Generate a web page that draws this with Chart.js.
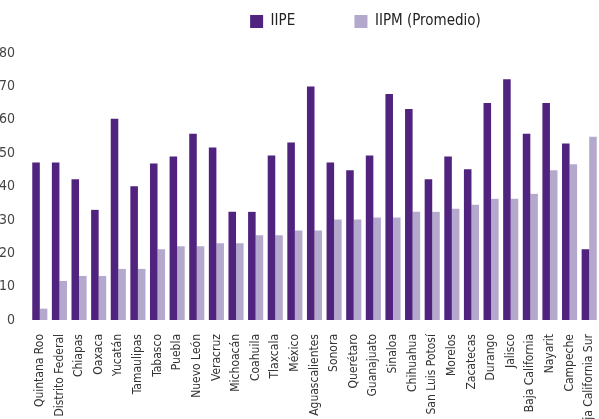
<!DOCTYPE html>
<html>
<head>
<meta charset="utf-8">
<script src="https://cdn.jsdelivr.net/npm/chart.js@4/dist/chart.umd.min.js"></script>
<style>
  html, body { margin: 0; padding: 0; background: #fff; }
  #wrap { width: 599px; height: 419px; }
</style>
</head>
<body>
<div id="wrap"><canvas id="iipeChart"></canvas></div>
<script>
const estados = [
    "Quintana Roo", "Distrito Federal", "Chiapas", "Oaxaca", "Yucatán",
    "Tamaulipas", "Tabasco", "Puebla", "Nuevo León", "Veracruz",
    "Michoacán", "Coahuila", "Tlaxcala", "México", "Aguascalientes",
    "Sonora", "Querétaro", "Guanajuato", "Sinaloa", "Chihuahua",
    "San Luis Potosí", "Morelos", "Zacatecas", "Durango", "Jalisco",
    "Baja California", "Nayarit", "Campeche", "Baja California Sur"
];

const iipe = [
    47.2, 47.2, 42.2, 33.0, 60.3, 40.1, 46.9, 49.0, 55.8, 51.7,
    32.4, 32.4, 49.3, 53.2, 70.0, 47.2, 44.9, 49.3, 67.7, 63.2,
    42.2, 49.0, 45.2, 65.0, 72.1, 55.8, 65.0, 52.9, 21.2
];

const iipm = [
    3.4, 11.7, 13.2, 13.2, 15.3, 15.3, 21.2, 22.1, 22.1, 23.0,
    23.0, 25.4, 25.4, 26.8, 26.8, 30.1, 30.1, 30.7, 30.7, 32.4,
    32.4, 33.3, 34.5, 36.3, 36.3, 37.8, 44.9, 46.7, 54.9
];

const yTicks = [0, 10, 20, 30, 40, 50, 60, 70, 80];

const fuente = "'DejaVu Sans Condensed', 'DejaVu Sans', sans-serif";

// moves the legend right of centre and up towards the top edge
const legendShift = {
    id: "legendShift",
    afterLayout(chart) {
        const lg = chart.legend;
        lg.left += 66;
        lg.right += 66;
        lg.top -= 14;
        lg.bottom -= 14;
    }
};

new Chart(document.getElementById("iipeChart"), {
    type: "bar",
    data: {
        labels: estados,
        datasets: [
            {
                label: "IIPE",
                data: iipe,
                backgroundColor: "#50237f"
            },
            {
                label: "IIPM (Promedio)",
                data: iipm,
                backgroundColor: "#b4a9cd"
            }
        ]
    },
    plugins: [legendShift],
    options: {
        responsive: true,
        maintainAspectRatio: false,
        animation: false,
        layout: { padding: { top: 16, right: 0, left: 0, bottom: 0 } },
        datasets: {
            bar: { categoryPercentage: 0.77, barPercentage: 1.0 }
        },
        plugins: {
            legend: {
                position: "top",
                align: "center",
                labels: {
                    boxWidth: 13,
                    boxHeight: 13,
                    padding: 12,
                    color: "#222",
                    font: { family: fuente, size: 15 },
                    // wider gap after the first entry (trailing spaces)
                    generateLabels(chart) {
                        const items = Chart.defaults.plugins.legend.labels.generateLabels(chart);
                        items[0].text += "\u2002".repeat(7);
                        return items;
                    }
                }
            },
            tooltip: { enabled: false }
        },
        scales: {
            x: {
                grid: { display: false },
                border: { display: false },
                ticks: {
                    autoSkip: false,
                    minRotation: 90,
                    maxRotation: 90,
                    padding: 6,
                    color: "#333",
                    font: { family: fuente, size: 12 }
                },
                afterFit(scale) {
                    scale.height = 99;
                    scale.paddingLeft = 0;
                    scale.paddingRight = 0;
                }
            },
            y: {
                min: 0,
                max: 80,
                grid: { display: false },
                border: { display: false },
                afterBuildTicks(scale) {
                    scale.ticks = yTicks.map(v => ({ value: v }));
                },
                ticks: {
                    padding: 7,
                    color: "#444",
                    font: { family: fuente, size: 14 }
                },
                afterFit(scale) { scale.width = 30; }
            }
        }
    }
});
</script>
</body>
</html>
